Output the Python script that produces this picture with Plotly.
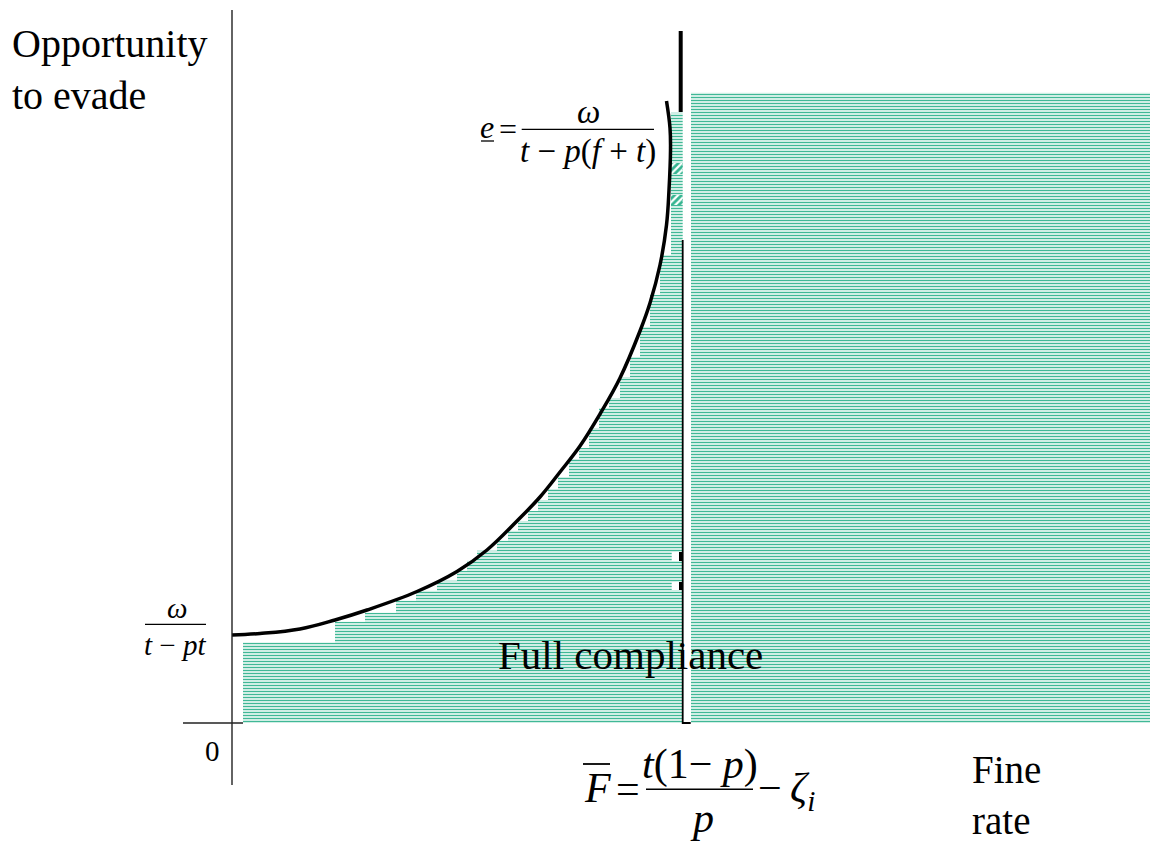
import plotly.graph_objects as go

# ---------------- data (chart units: x = fine rate, y = opportunity to evade) -------------
# boundary curve e = omega / (t - p(f+t))
curve_x = [0, 28, 68, 103, 135, 185, 225, 255, 285, 308, 328, 348, 368, 388, 408, 418, 428, 434.5, 437, 438.5, 438, 434.5]
curve_y = [88, 89.5, 94, 103, 113, 131.5, 151.5, 173, 202, 226, 251, 277, 309, 345, 392, 420, 458, 498, 533, 573, 595, 622]

# staircase (hatched) area under the curve: left edge of each step and its top
step_x = [11, 103, 133, 164, 184, 205, 225, 235, 245, 265, 276, 286, 296, 306, 316, 326, 337, 347, 357,
          367, 377, 388, 398, 408, 418, 428, 439, 450.7]
step_top = [80.5, 101.3, 110.3, 122.3, 132.3, 142.3, 152.3, 162.3, 172.3, 182.3, 192.3, 202, 212, 223, 234,
            246, 264, 275, 295, 315, 325, 346, 366, 396, 428, 468, 610.3, 610.3]

# hatched area to the right of the fine threshold
right_x = [459, 918]
right_top = [630.3, 630.3]

# small diagonal-hatched cells next to the threshold
cell_x = [439, 450.5]
cell_bottoms = [549, 518]
cell_tops = [560, 528]

# threshold line F-bar
thr_x = 450.7
thr_thick = [611, 692]
thr_thin = [0, 483]
dash_bottoms = [162, 133]
dash_tops = [171, 141]

TEAL = "rgb(30,172,132)"
SERIF = "Liberation Serif, Times New Roman, serif"


def X(px):
    return px - 232


def Y(py):
    return 723 - py


fig = go.Figure()

hatch = dict(shape="-", size=3, solidity=0.5, fgcolor=TEAL, fgopacity=0.85, bgcolor="white")

# staircase area
fig.add_trace(go.Scatter(
    x=step_x, y=step_top, mode="none", line=dict(shape="hv", width=0),
    fill="tozeroy", fillcolor=TEAL, fillpattern=hatch,
    hoverinfo="skip", showlegend=False))

# right area
fig.add_trace(go.Scatter(
    x=right_x, y=right_top, mode="none", line=dict(shape="hv", width=0),
    fill="tozeroy", fillcolor=TEAL, fillpattern=hatch,
    hoverinfo="skip", showlegend=False))

# small diagonal cells
for b, t in zip(cell_bottoms, cell_tops):
    fig.add_trace(go.Scatter(
        x=[cell_x[0], cell_x[1], cell_x[1], cell_x[0], cell_x[0]],
        y=[b, b, t, t, b], mode="none", fill="toself", fillcolor=TEAL,
        fillpattern=dict(shape="/", size=5, solidity=0.55, fgcolor=TEAL, fgopacity=0.9, bgcolor="white"),
        hoverinfo="skip", showlegend=False))

# dashes on the threshold
for b, t in zip(dash_bottoms, dash_tops):
    fig.add_trace(go.Scatter(
        x=[thr_x - 11, thr_x - 3.7, thr_x - 3.7, thr_x - 11, thr_x - 11],
        y=[b, b, t, t, b], mode="none", fill="toself", fillcolor="white",
        hoverinfo="skip", showlegend=False))
    fig.add_trace(go.Scatter(
        x=[thr_x - 3.7, thr_x, thr_x, thr_x - 3.7, thr_x - 3.7],
        y=[b, b, t, t, b], mode="none", fill="toself", fillcolor="black",
        hoverinfo="skip", showlegend=False))

# threshold lines
fig.add_trace(go.Scatter(x=[thr_x, thr_x, thr_x + 8], y=[thr_thin[1], thr_thin[0], thr_thin[0]],
                         mode="lines", line=dict(color="black", width=1.8),
                         hoverinfo="skip", showlegend=False))
fig.add_trace(go.Scatter(x=[thr_x - 2, thr_x - 2], y=thr_thick, mode="lines",
                         line=dict(color="black", width=4), hoverinfo="skip", showlegend=False))

# curve
fig.add_trace(go.Scatter(x=curve_x, y=curve_y, mode="lines",
                         line=dict(color="black", width=3.5, shape="spline", smoothing=1.1),
                         hoverinfo="skip", showlegend=False))

# axes lines
fig.add_shape(type="line", x0=0, x1=0, y0=Y(785), y1=Y(10), line=dict(color="#222", width=1.4))
fig.add_shape(type="line", x0=X(183), x1=X(243), y0=0, y1=0, line=dict(color="#222", width=1.4))


def text(px, py, s, size, xanchor="center", yanchor="middle", align="center"):
    fig.add_annotation(x=X(px), y=Y(py), text=s, showarrow=False, xanchor=xanchor, yanchor=yanchor,
                       align=align, font=dict(family=SERIF, size=size, color="black"))


def hline(x0, x1, py, w=1.3):
    fig.add_shape(type="line", x0=X(x0), x1=X(x1), y0=Y(py), y1=Y(py), line=dict(color="black", width=w))


# axis titles
text(10, 69, "Opportunity<br>to evade", 40, xanchor="left", align="left")
text(970, 795, "Fine<br>rate", 39, xanchor="left", align="left")
text(630, 655, "Full compliance", 41)
text(212, 751, "0", 29)

# e = omega / (t - p(f+t))
text(487, 127, "<i>e</i>", 32)
hline(481, 494, 141, 1.3)
text(508, 129, "=", 32)
text(588, 112, "<i>ω</i>", 33)
hline(521.7, 654, 129.3, 1.3)
text(588, 151, "<i>t</i> − <i>p</i>(<i>f</i> + <i>t</i>)", 33)

# omega / (t - pt)
text(177, 608, "<i>ω</i>", 29)
hline(145, 206, 624.3, 1.3)
text(175, 645, "<i>t</i> − <i>pt</i>", 29)

# F-bar = t(1-p)/p - zeta_i
text(597, 788, "<i>F</i>", 42)
hline(583, 610, 764, 1.8)
text(628, 789, "=", 42)
text(700, 764, "<i>t</i>(1− <i>p</i>)", 42)
hline(646, 753, 789.3, 1.5)
text(702, 818, "<i>p</i>", 42)
text(756, 791, "−\u2009<i>ζ</i><sub><i>i</i></sub>", 42, xanchor="left")

fig.update_xaxes(range=[X(0), X(1150)], visible=False, showgrid=False, zeroline=False)
fig.update_yaxes(range=[Y(845), Y(0)], visible=False, showgrid=False, zeroline=False)
fig.update_layout(width=1150, height=845, margin=dict(l=0, r=0, t=0, b=0),
                  plot_bgcolor="white", paper_bgcolor="white")

fig.write_html("out.html", config={"displayModeBar": False},
               post_script="document.body.style.margin='0';")
